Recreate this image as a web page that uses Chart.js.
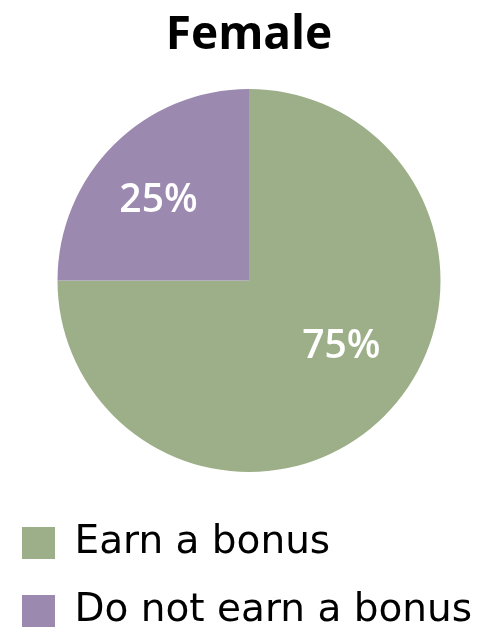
<!DOCTYPE html>
<html>
<head>
<meta charset="utf-8">
<script src="https://cdn.jsdelivr.net/npm/chart.js@4"></script>
<style>
  html, body { margin: 0; padding: 0; background: #fff; }
  #wrap { width: 498px; height: 641px; }
</style>
</head>
<body>
<div id="wrap"><canvas id="pie"></canvas></div>
<script>
const categories = ['Earn a bonus', 'Do not earn a bonus']
const values = [75, 25]
const sliceColors = ['#9caf88', '#9b89b0']
const chartTitle = 'Female'

// where each percentage sits: fraction of radius, shift from mid angle (deg)
const labelSpots = [
    { r: 0.587, shift: -10.3 },
    { r: 0.64, shift: -2.6 }
]

const sliceLabels = {
    id: 'sliceLabels',
    afterDatasetsDraw(chart) {
        const ctx = chart.ctx
        const arcs = chart.getDatasetMeta(0).data
        ctx.save()
        ctx.fillStyle = '#ffffff'
        ctx.font = '600 39px "Open Sans"'
        ctx.textAlign = 'center'
        ctx.textBaseline = 'alphabetic'
        arcs.forEach((arc, i) => {
            const p = arc.getProps(['x', 'y', 'startAngle', 'endAngle', 'outerRadius'], true)
            const mid = (p.startAngle + p.endAngle) / 2 + labelSpots[i].shift * Math.PI / 180
            const d = p.outerRadius * labelSpots[i].r
            const x = p.x + Math.cos(mid) * d
            const y = p.y + Math.sin(mid) * d
            ctx.fillText(values[i] + '%', x, y + 14)
        })
        ctx.restore()
    }
}

new Chart(document.getElementById('pie'), {
    type: 'pie',
    data: {
        labels: categories,
        datasets: [{
            data: values,
            backgroundColor: sliceColors,
            borderWidth: 0,
            hoverOffset: 0
        }]
    },
    options: {
        responsive: true,
        maintainAspectRatio: false,
        animation: false,
        radius: 191.5,
        layout: { padding: { left: -7, right: -7, top: 0, bottom: 0.5 } },
        plugins: {
            title: {
                display: true,
                text: chartTitle,
                color: '#000',
                font: { family: '"Open Sans"', size: 46, weight: 'bold', lineHeight: 1.2 },
                padding: { top: 8, bottom: 3.3 }
            },
            legend: {
                position: 'bottom',
                align: 'start',
                labels: {
                    boxWidth: 33,
                    boxHeight: 32,
                    padding: 29,
                    color: '#000',
                    font: { family: '"DejaVu Sans"', size: 39 }
                }
            },
            tooltip: { enabled: false }
        }
    },
    plugins: [sliceLabels]
})
</script>
</body>
</html>
